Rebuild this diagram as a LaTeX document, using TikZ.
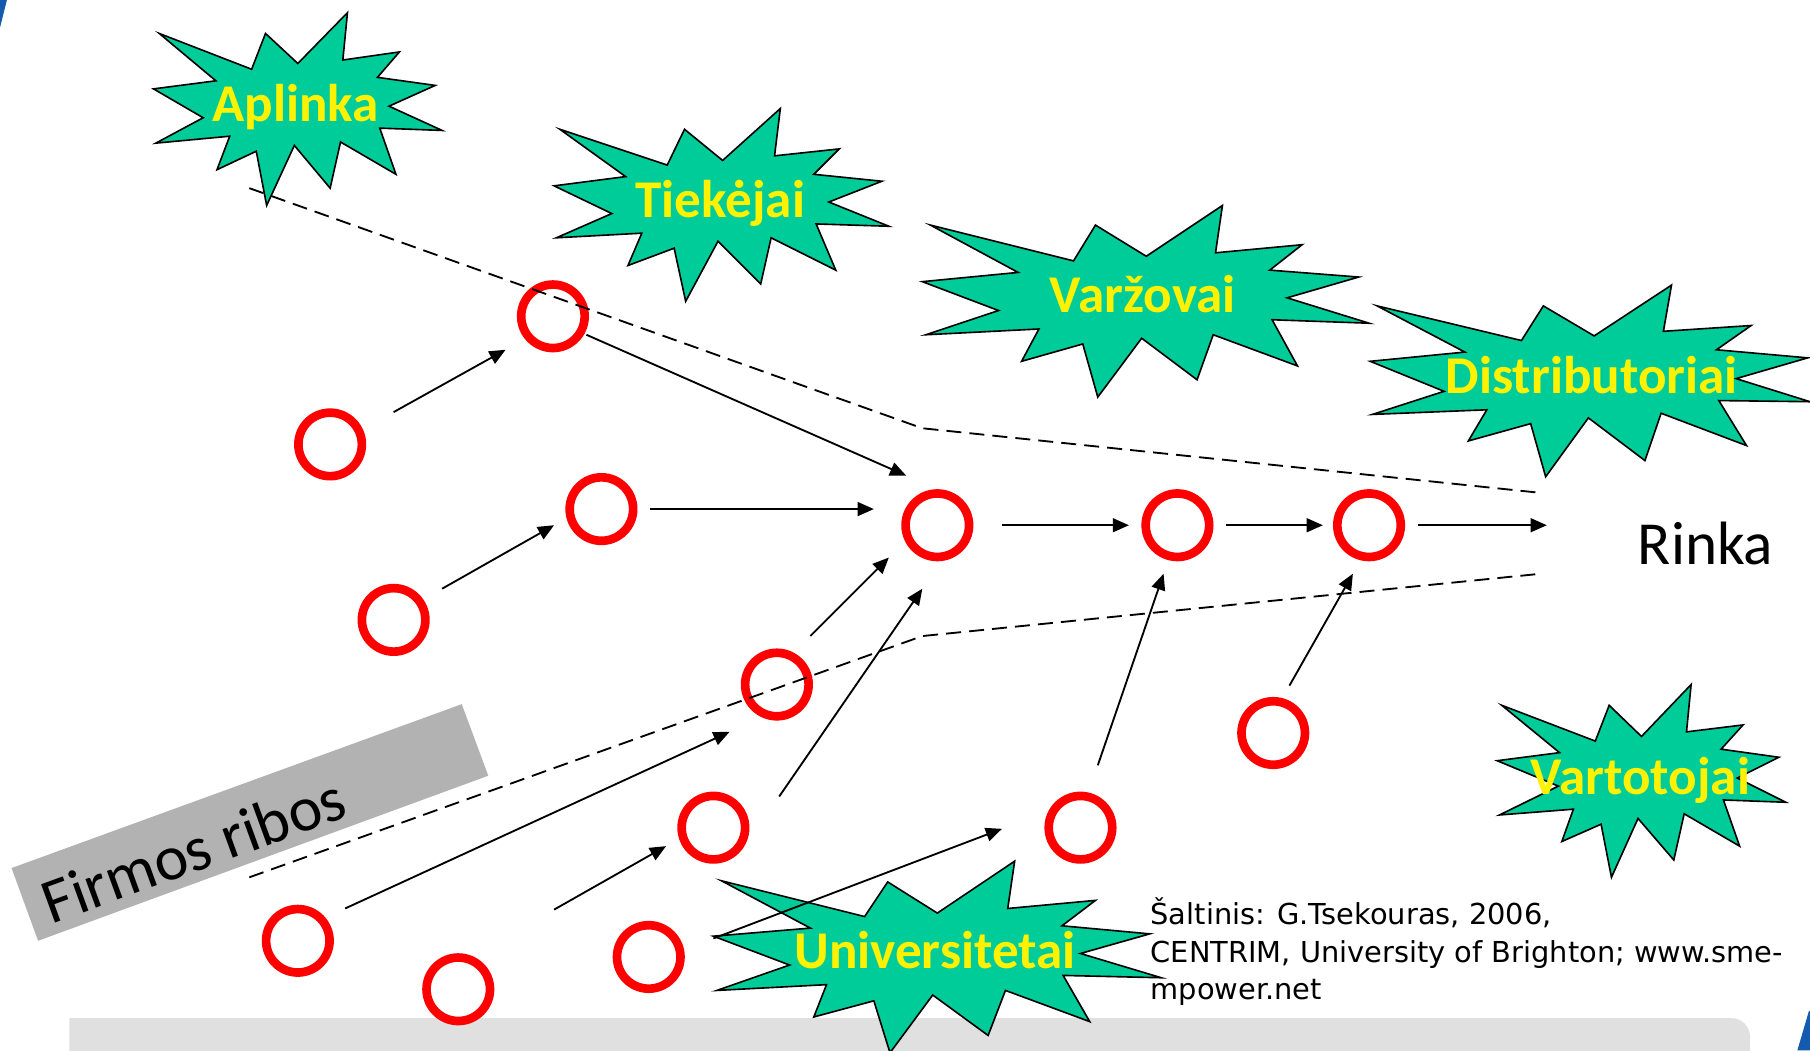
\documentclass[tikz,border=0pt]{standalone}
\usepackage{fontspec}
\setmainfont{Carlito}
\newfontfamily\srcfont{DejaVu Sans}
\usetikzlibrary{arrows.meta,calc}

\definecolor{burstgreen}{RGB}{0,204,153}
\definecolor{ringred}{RGB}{255,0,0}
\definecolor{ribgray}{RGB}{178,178,178}
\definecolor{bargray}{RGB}{224,224,224}
\definecolor{slideblue}{RGB}{20,90,175}

\tikzset{every picture/.style={line width=0.8pt}}

\begin{document}
\begin{tikzpicture}[x=0.5pt,y=0.5pt,yscale=-1,xscale=1,
  stage/.style={circle, draw=ringred, line width=3.75pt, minimum size=27.5pt, inner sep=0pt},
  flow/.style={-{Triangle[length=7pt,width=6pt]}, line width=0.8pt},
  boundary/.style={dash pattern=on 6.5pt off 3.5pt, line width=0.8pt},
  burst/.style={fill=burstgreen, draw=black, line width=0.7pt},
  burstlabel/.style={anchor=base, inner sep=0pt, text=yellow, font=\bfseries\fontsize{23}{27}\selectfont}]
\clip (0,0) rectangle (1568,910);

%slide corners
\fill[slideblue] (0,0) -- (6,0) -- (0,24) -- cycle;
\fill[slideblue] (1557,910) -- (1567,876) -- (1568,876) -- (1568,910) -- cycle;
%bottom bar
\fill[bargray] (60,930) -- (60,882) -- (1400,882) [rounded corners=8pt] -- (1516,882) -- (1516,930) [sharp corners] -- cycle;
%firm boundary label box
\fill[ribgray] (10,752) -- (400,610) -- (423,672) -- (33,815) -- cycle;

%Shape: burst Aplinka
\draw[burst] (138,29) -- (218,60) -- (230,29) -- (258,55) -- (301,11) -- (297,52) -- (346,45) -- (327,67) -- (377,74) -- (337,92) -- (383,113) -- (329,111) -- (343,151) -- (295,123) -- (286,163) -- (255,126) -- (231,178) -- (222,131) -- (188,147) -- (199,118) -- (135,124) -- (176,102) -- (133,77) -- (187,70) -- cycle;
\node[burstlabel] (aplinka) at (256,105) {Aplinka};
%Shape: burst Tiekejai
\draw[burst] (485,112) -- (578,143) -- (593,112) -- (626,139) -- (676,94) -- (671,135) -- (727,129) -- (705,151) -- (764,157) -- (718,175) -- (770,196) -- (707,194) -- (724,234) -- (668,206) -- (659,246) -- (622,209) -- (594,261) -- (584,215) -- (544,230) -- (556,202) -- (482,206) -- (530,185) -- (480,161) -- (542,153) -- cycle;
\node[burstlabel] (tiekejai) at (624,188) {Tiekėjai};
%Shape: burst Varzovai
\draw[burst] (806,195) -- (930,226) -- (949,195) -- (993,222) -- (1059,178) -- (1053,219) -- (1128,212) -- (1100,234) -- (1177,240) -- (1115,258) -- (1186,280) -- (1102,277) -- (1124,317) -- (1051,290) -- (1037,329) -- (989,293) -- (951,344) -- (938,298) -- (885,313) -- (900,285) -- (802,290) -- (865,269) -- (799,244) -- (882,236) -- cycle;
\node[burstlabel] (varzovai) at (990,271) {Varžovai};
%Shape: burst Distributoriai
\draw[burst] (1193,265) -- (1318,295) -- (1337,265) -- (1381,291) -- (1448,247) -- (1441,287) -- (1517,282) -- (1487,303) -- (1566,310) -- (1504,328) -- (1568,348) -- (1489,347) -- (1513,386) -- (1439,358) -- (1425,399) -- (1376,362) -- (1339,413) -- (1326,367) -- (1272,382) -- (1288,355) -- (1189,359) -- (1251,339) -- (1187,313) -- (1269,305) -- cycle;
\node[burstlabel] (distrib) at (1379,341) {Distributoriai};
%Shape: burst Vartotojai
\draw[burst] (1301,611) -- (1382,642) -- (1394,611) -- (1422,638) -- (1465,593) -- (1461,634) -- (1510,628) -- (1491,649) -- (1541,656) -- (1505,674) -- (1547,695) -- (1493,693) -- (1507,733) -- (1459,705) -- (1450,745) -- (1419,709) -- (1396,760) -- (1387,714) -- (1353,729) -- (1363,701) -- (1299,706) -- (1350,681) -- (1297,659) -- (1351,652) -- cycle;
\node[burstlabel] (vartotojai) at (1421,688) {Vartotojai};
%Shape: burst Universitetai
\draw[burst] (625,763) -- (749,794) -- (769,764) -- (812,791) -- (879,746) -- (873,787) -- (949,780) -- (920,802) -- (996,809) -- (936,826) -- (1006,847) -- (921,845) -- (944,885) -- (871,858) -- (856,897) -- (808,862) -- (771,912) -- (757,867) -- (705,881) -- (716,853) -- (621,858) -- (684,836) -- (618,811) -- (702,804) -- cycle;
\node[burstlabel] (univ) at (810,839) {Universitetai};

%stages
\node[stage] (c1) at (479,274) {};
\node[stage] (c2) at (286,385) {};
\node[stage] (c3) at (521,441) {};
\node[stage] (c4) at (341,537) {};
\node[stage] (c5) at (812,455) {};
\node[stage] (c6) at (1020,455) {};
\node[stage] (c7) at (1186,455) {};
\node[stage] (c8) at (673,593) {};
\node[stage] (c9) at (618,717) {};
\node[stage] (c10) at (1103,635) {};
\node[stage] (c11) at (936,717) {};
\node[stage] (c12) at (258,815) {};
\node[stage] (c13) at (397,857) {};
\node[stage] (c14) at (562,829) {};

%firm boundary
\draw[boundary] (216,163) -- (799,371) -- (1335,427);
\draw[boundary] (216,760) -- (799,551) -- (1335,497);

% Text Node
\node[anchor=base west, inner sep=0pt, font=\fontsize{26.5}{30}\selectfont] (rinka) at (1418,489) {Rinka};
% Text Node
\node[anchor=base west, inner sep=0pt, rotate=20, font=\fontsize{27.5}{30}\selectfont] (ribos) at (44,801) {Firmos ribos};
% Text Node
\node[anchor=base west, align=left, inner sep=0pt, font=\srcfont\fontsize{12.5}{16.25}\selectfont] (src) at (996,866) {Šaltinis: G.Tsekouras, 2006,\\CENTRIM, University of Brighton; www.sme-\\mpower.net};

%flows
\draw[flow] ($(c2)+(55,-28)$) -- ($(c1)+(-41,29)$);
\draw[flow] ($(c1)+(29,16)$) -- ($(c5)+(-27,-43)$);
\draw[flow] ($(c3)+(42,0)$) -- ($(c5)+(-55,-14)$);
\draw[flow] ($(c4)+(42,-27)$) -- ($(c3)+(-41,14)$);
\draw[flow] ($(c5)+(56,0)$) -- ($(c6)+(-42,0)$);
\draw[flow] ($(c6)+(42,0)$) -- ($(c7)+(-40,0)$);
\draw[flow] ($(c7)+(42,0)$) -- ($(rinka.base west)+(-78,-34)$);
\draw[flow] ($(c8)+(29,-42)$) -- ($(c5)+(-42,28)$);
\draw[flow] ($(c9)+(57,-27)$) -- ($(c5)+(-13,55)$);
\draw[flow] ($(c11)+(15,-54)$) -- ($(c6)+(-12,42)$);
\draw[flow] ($(c10)+(14,-41)$) -- ($(c7)+(-14,42)$);
\draw[flow] ($(c12)+(41,-28)$) -- ($(c8)+(-41,41)$);
\draw[flow] ($(c13)+(83,-69)$) -- ($(c9)+(-41,16)$);
\draw[flow] ($(c14)+(56,-16)$) -- ($(c11)+(-68,1)$);

\end{tikzpicture}
\end{document}
